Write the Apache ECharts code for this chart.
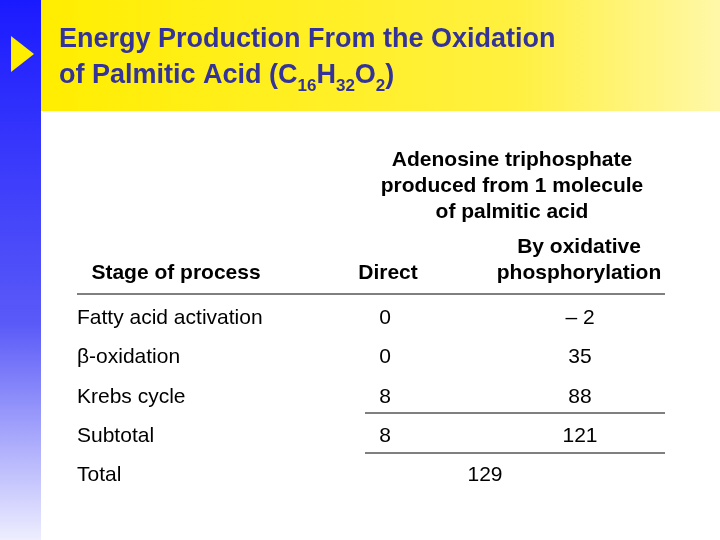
<!DOCTYPE html>
<html><head><meta charset="utf-8">
<script src="https://cdn.jsdelivr.net/npm/echarts@6/dist/echarts.min.js"></script>
<style>html,body{margin:0;padding:0;background:#fff}#c{width:720px;height:540px}</style>
</head><body><div id="c"></div>
<script>
var stages = ['Fatty acid activation', 'β-oxidation', 'Krebs cycle', 'Subtotal', 'Total'];
var direct = ['0', '0', '8', '8', ''];
var oxidative = ['– 2', '35', '88', '121', ''];
var totalValue = '129';
var headerLines = ['Adenosine triphosphate', 'produced from 1 molecule', 'of palmitic acid'];
var colHeaders = [['Stage of process'], ['Direct'], ['By oxidative', 'phosphorylation']];

var F = 'Liberation Sans, Arial, sans-serif';
var chart = echarts.init(document.getElementById('c'));
var g = [];
g.push({type:'rect', shape:{x:0,y:0,width:41,height:540}, style:{fill:new echarts.graphic.LinearGradient(0,0,0,1,[{offset:0,color:'#1a1aff'},{offset:0.6,color:'#5a5af8'},{offset:1,color:'#eeeeff'}])}});
g.push({type:'rect', shape:{x:41,y:0,width:679,height:111}, style:{fill:new echarts.graphic.LinearGradient(0,0,1,0,[{offset:0,color:'#ffee00'},{offset:0.7,color:'#fff040'},{offset:1,color:'#fff8a8'}])}});
g.push({type:'polygon', shape:{points:[[11,36],[11,72],[34,54]]}, style:{fill:'#ffee00'}});
g.push({type:'text', x:59, y:40, style:{text:'Energy Production From the Oxidation', font:'bold 27px '+F, fill:'#333399', verticalAlign:'middle'}});
g.push({type:'text', x:59, y:62, style:{
  text:'{a|of Palmitic Acid (C}{s|16}{a|H}{s|32}{a|O}{s|2}{a|)}',
  rich:{a:{font:'bold 27px '+F, fill:'#333399', verticalAlign:'bottom'}, s:{font:'bold 17px '+F, fill:'#333399', verticalAlign:'bottom', padding:[0,0,-6,0]}}
}});
headerLines.forEach(function(t,i){
  g.push({type:'text', x:512, y:160+26*i, style:{text:t, font:'bold 21px '+F, fill:'#000', align:'center', verticalAlign:'middle'}});
});
var hx=[176,388,579];
colHeaders.forEach(function(lines,i){
  lines.forEach(function(t,j){
    g.push({type:'text', x:hx[i], y:273-26*(lines.length-1-j), style:{text:t, font:'bold 21px '+F, fill:'#000', align:'center', verticalAlign:'middle'}});
  });
});
g.push({type:'line', shape:{x1:77,y1:294,x2:665,y2:294}, style:{stroke:'#000', lineWidth:1}});
g.push({type:'line', shape:{x1:365,y1:413,x2:665,y2:413}, style:{stroke:'#000', lineWidth:1}});
g.push({type:'line', shape:{x1:365,y1:453,x2:665,y2:453}, style:{stroke:'#000', lineWidth:1}});
var ry=[318,357,397,436,475];
stages.forEach(function(s,i){
  g.push({type:'text', x:77, y:ry[i], style:{text:s, font:'21px '+F, fill:'#000', verticalAlign:'middle'}});
  if(direct[i]) g.push({type:'text', x:385, y:ry[i], style:{text:direct[i], font:'21px '+F, fill:'#000', align:'center', verticalAlign:'middle'}});
  if(oxidative[i]) g.push({type:'text', x:580, y:ry[i], style:{text:oxidative[i], font:'21px '+F, fill:'#000', align:'center', verticalAlign:'middle'}});
});
g.push({type:'text', x:485, y:475, style:{text:totalValue, font:'21px '+F, fill:'#000', align:'center', verticalAlign:'middle'}});
chart.setOption({graphic:g});
</script></body></html>
